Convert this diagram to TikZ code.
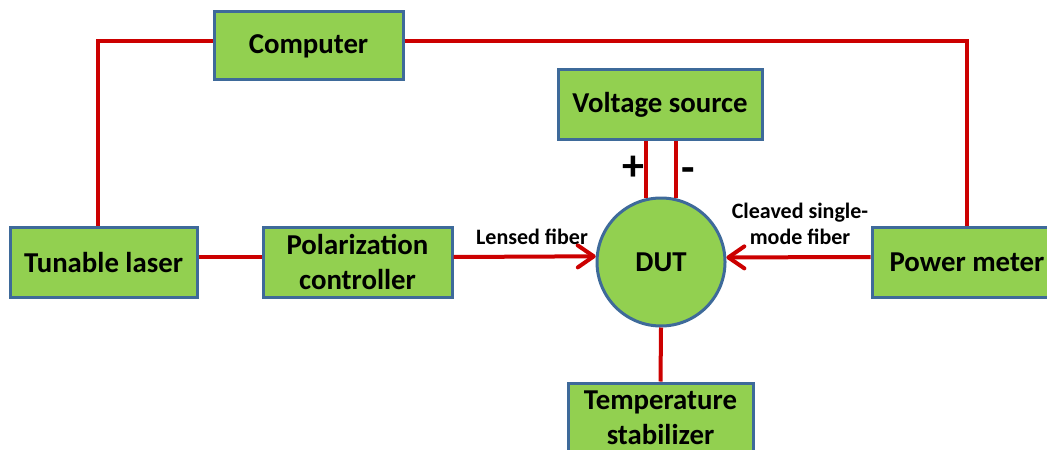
\documentclass[tikz,border=0pt]{standalone}
\usepackage{fontspec}
\setmainfont{Carlito}
\usetikzlibrary{arrows.meta}
\definecolor{boxgreen}{HTML}{92D050}
\definecolor{boxblue}{HTML}{3E6A9A}
\definecolor{wirered}{RGB}{204,0,0}
\tikzset{
  blockbox/.style={draw=boxblue, line width=1.5pt, fill=boxgreen, inner sep=0pt,
    font=\bfseries\fontsize{14.4}{17.5}\selectfont, align=center, text=black},
  dutcircle/.style={draw=boxblue, line width=1.5pt, fill=boxgreen, circle, inner sep=0pt,
    minimum size=64pt, font=\bfseries\fontsize{14.4}{17.5}\selectfont},
  wire/.style={draw=wirered, line width=2pt},
  fiber/.style={wire, -{Straight Barb[length=8pt,width=11pt,round]}},
  smalllabel/.style={font=\bfseries\fontsize{11}{13}\selectfont, align=center, inner sep=0pt},
  signlabel/.style={font=\bfseries\fontsize{22}{24}\selectfont, inner sep=0pt}
}
\begin{document}
\begin{tikzpicture}[x=0.5pt,y=-0.5pt]
\useasboundingbox (0,0) rectangle (1047,449);
\node[blockbox, minimum width=94.5pt, minimum height=34pt] (comp) at (308.5,46) {Computer};
\node[blockbox, minimum width=102pt, minimum height=34.5pt] (vs) at (660,104.5) {Voltage source};
\node[blockbox, minimum width=93.5pt, minimum height=35pt] (tl) at (103.5,262) {Tunable laser};
\node[blockbox, minimum width=94.5pt, minimum height=35pt] (pc) at (357.5,262) {Polarization\\controller};
\node[dutcircle] (dut) at (661,262) {DUT};
\node[blockbox, minimum width=95pt, minimum height=35pt] (pm) at (967,262) {Power meter};
\node[blockbox, minimum width=92.5pt, minimum height=35pt] (ts) at (660.5,418) {Temperature\\stabilizer};

% computer links
\draw[wire] ([yshift=2.5pt]comp.west) -| ([xshift=-2.75pt]tl.north);
\draw[wire] ([yshift=2.5pt]comp.east) -| (pm.north);
% optical path
\draw[wire] ([yshift=2.5pt]tl.east) -- ([yshift=2.5pt]pc.west);
\draw[fiber] ([yshift=2.5pt]pc.east) -- (dut.175.5);
\draw[fiber] ([yshift=2.5pt]pm.west) -- (dut.4.5);
% voltage
\draw[wire] (dut.103.5) -- (dut.103.5 |- vs.south);
\draw[wire] (dut.77.4) -- (dut.77.4 |- vs.south);
% temperature
\draw[wire] (dut.south) -- (ts.north);

% labels
\node[smalllabel] (lf) at (532,237) {Lensed fiber};
\node[smalllabel] (cs) at (800,224) {Cleaved single-\\mode fiber};
\node[signlabel] (plus) at (633,168) {+};
\node[signlabel] (minus) at (688,175) {-};
\end{tikzpicture}
\end{document}
